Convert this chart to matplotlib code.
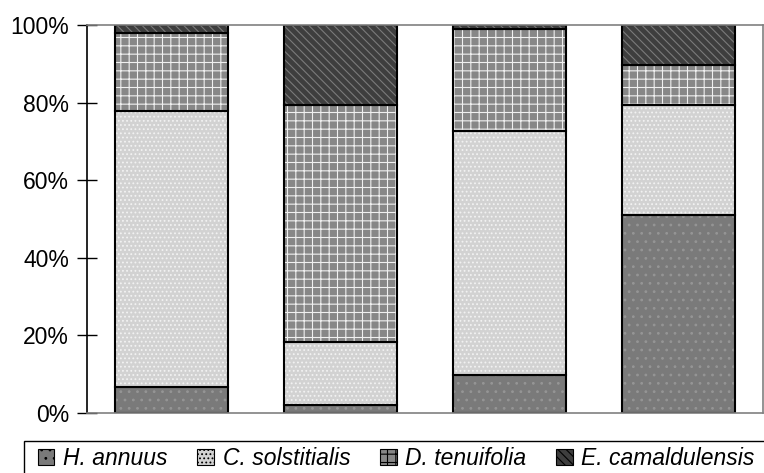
import matplotlib.pyplot as plt
import numpy as np
from matplotlib.patches import Patch, Rectangle
from matplotlib.ticker import PercentFormatter

plt.rcParams["font.family"] = ["Liberation Sans", "DejaVu Sans"]
plt.rcParams["hatch.linewidth"] = 0.8

species = ["H. annuus", "C. solstitialis", "D. tenuifolia", "E. camaldulensis"]
samples = ["1", "2", "3", "4"]

# percent share of each species per bar
h_annuus = [6.7, 2.0, 9.8, 51.0]
c_solstitialis = [71.1, 16.3, 62.9, 28.4]
d_tenuifolia = [20.1, 61.2, 26.3, 10.3]
e_camaldulensis = [2.1, 20.5, 1.0, 10.3]

series = [h_annuus, c_solstitialis, d_tenuifolia, e_camaldulensis]
fills = ["#7a7a7a", "#d2d2d2", "#878787", "#3e3e3e"]
hatch_cols = ["#959595", "#f2f2f2", "#f0f0f0", "#7a7a7a"]
hatches = ["..", "....", "++", "\\\\\\\\"]

fig = plt.figure(figsize=(7.64, 4.73), dpi=100)
ax = fig.add_axes([87 / 764, 1 - 413 / 473, 676 / 764, 388 / 473])

x = np.arange(len(samples))
bottom = np.zeros(len(samples))
for vals, fc, hc, h in zip(series, fills, hatch_cols, hatches):
    ax.bar(x, vals, 0.667, bottom=bottom, color=fc, edgecolor=hc,
           hatch=h, linewidth=0)
    ax.bar(x, vals, 0.667, bottom=bottom, fill=False, edgecolor="black",
           linewidth=1.5)
    bottom += np.array(vals)

ax.set_xlim(-0.5, 3.5)
ax.set_ylim(0, 100)
ax.set_yticks(range(0, 101, 20))
ax.yaxis.set_major_formatter(PercentFormatter(decimals=0))
ax.set_xticks([])
ax.tick_params(axis="y", direction="inout", length=14, labelsize=16.5,
               width=1, pad=6)
for s in ["top", "right", "bottom"]:
    ax.spines[s].set_color("#808080")
    ax.spines[s].set_linewidth(1.2)
ax.spines["left"].set_linewidth(1.2)

# legend box runs off the right and bottom edge of the figure
fig.patches.append(Rectangle((24 / 764, -0.1), 1.0, 0.1 + 1 - 441 / 473,
                             transform=fig.transFigure, fill=False,
                             edgecolor="black", linewidth=1.0))

handles = [Patch(facecolor=fc, edgecolor="black", hatch=h, linewidth=0.8)
           for fc, h in zip(fills, hatches)]
leg = fig.legend(handles, species, loc="upper left",
                 bbox_to_anchor=(31 / 764, 1 - 440 / 473), ncol=4,
                 frameon=False,
                 prop={"size": 16.5, "style": "italic"}, handlelength=0.72,
                 handleheight=0.68, handletextpad=0.38, columnspacing=1.3,
                 borderpad=0.3, borderaxespad=0)

fig.savefig("out.png", dpi=100)
